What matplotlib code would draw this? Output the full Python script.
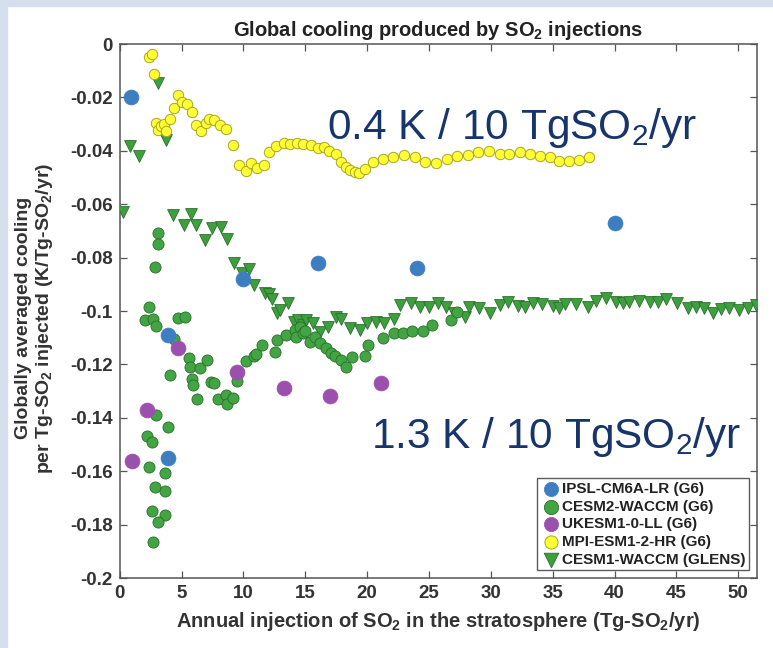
import numpy as np
import matplotlib
matplotlib.use("Agg")
import matplotlib.pyplot as plt
from matplotlib.patches import Rectangle

plt.rcParams['font.family'] = ['Liberation Sans', 'DejaVu Sans']
plt.rcParams['mathtext.default'] = 'regular'

# IPSL-CM6A-LR (G6)
ipsl_x = [0.9, 3.9, 3.9, 10.0, 16.0, 24.0, 40.0]
ipsl_y = [-0.020, -0.109, -0.155, -0.088, -0.082, -0.084, -0.067]

# UKESM1-0-LL (G6)
ukesm_x = [1.0, 2.2, 4.7, 9.5, 13.3, 17.0, 21.1]
ukesm_y = [-0.156, -0.137, -0.114, -0.123, -0.129, -0.132, -0.127]

# CESM2-WACCM (G6)
cesm2_x = [2.02, 2.37, 2.69, 2.96, 2.83, 3.1, 3.1, 4.36, 4.09, 4.71, 5.25,
           5.6, 5.65, 5.84, 5.92, 6.25, 6.46, 7.05, 7.4, 7.59, 7.94, 8.56,
           8.67, 9.15, 9.48, 10.23, 10.82, 10.99, 11.52, 12.52, 12.7, 13.46,
           14.14, 14.27, 14.6, 14.81, 15.0, 15.35, 15.75, 16.16, 16.7, 17.1,
           17.37, 17.9, 18.26, 18.8, 19.79, 20.06, 21.27, 22.13, 22.88, 23.64,
           24.5, 25.26, 26.79, 27.3,
           2.96, 2.21, 2.64, 3.9, 2.37, 3.63, 2.83, 3.63, 2.61, 3.63, 3.1, 2.69]
cesm2_y = [-0.1034, -0.0986, -0.1031, -0.1056, -0.0834, -0.0707, -0.0749,
           -0.1106, -0.1240, -0.1027, -0.1021, -0.1177, -0.1209, -0.1256,
           -0.1277, -0.1330, -0.1215, -0.1184, -0.1265, -0.1271, -0.1330,
           -0.1315, -0.1348, -0.1325, -0.1261, -0.1186, -0.1169, -0.1161,
           -0.1127, -0.1152, -0.1109, -0.1090, -0.1071, -0.1096, -0.1060,
           -0.1084, -0.1075, -0.1115, -0.1096, -0.1121, -0.1140, -0.1156,
           -0.1169, -0.1184, -0.1211, -0.1173, -0.1169, -0.1127, -0.1102,
           -0.1081, -0.1081, -0.1074, -0.1074, -0.1052, -0.1034, -0.1002,
           -0.1390, -0.1468, -0.1490, -0.1436, -0.1583, -0.1608, -0.1658,
           -0.1673, -0.1748, -0.1764, -0.1789, -0.1864]

# MPI-ESM1-2-HR (G6)
mpi_x = [2.4, 2.6, 2.75, 2.95, 3.1, 3.35, 3.55, 3.75, 4.05, 4.35, 4.7, 5.0,
         5.4, 5.8, 6.2, 6.6, 6.95, 7.25, 7.65, 8.1, 8.6, 9.15, 9.6, 10.2,
         10.6, 11.1, 11.65, 12.1, 12.65, 13.25, 13.8, 14.3, 14.85, 15.45,
         16.0, 16.5, 16.95, 17.45, 17.85, 18.25, 18.65, 19.0, 19.35, 19.8,
         20.45, 21.3, 22.1, 23.0, 23.85, 24.65, 25.6, 26.45, 27.25, 28.15,
         29.0, 29.85, 30.7, 31.5, 32.35, 33.2, 34.0, 34.75, 35.55, 36.35,
         37.15, 37.95]
mpi_y = [-0.0050, -0.0039, -0.0112, -0.0296, -0.0322, -0.0307, -0.0300,
         -0.0325, -0.0281, -0.0241, -0.0191, -0.0216, -0.0225, -0.0253,
         -0.0303, -0.0325, -0.0297, -0.0282, -0.0285, -0.0303, -0.0318,
         -0.0378, -0.0453, -0.0474, -0.0447, -0.0466, -0.0453, -0.0403,
         -0.0382, -0.0370, -0.0376, -0.0372, -0.0375, -0.0378, -0.0391,
         -0.0387, -0.0401, -0.0413, -0.0441, -0.0459, -0.0472, -0.0478,
         -0.0482, -0.0469, -0.0441, -0.0432, -0.0424, -0.0416, -0.0424,
         -0.0441, -0.0444, -0.0432, -0.0420, -0.0416, -0.0404, -0.0400,
         -0.0412, -0.0412, -0.0406, -0.0412, -0.0419, -0.0422, -0.0437,
         -0.0437, -0.0434, -0.0422]

# CESM1-WACCM (GLENS)
glens_x = [0.25, 0.86, 1.56, 3.1, 3.72, 4.31, 5.17, 5.79, 6.19, 6.87, 7.49,
           8.21, 8.67, 9.2, 9.91, 10.45, 10.82, 11.71, 12.06, 12.33, 12.7,
           12.92, 13.6, 14.05, 14.4, 14.81, 15.08, 15.62, 16.16, 16.83, 17.5,
           17.9, 18.58, 19.39, 19.98, 20.68, 21.4, 22.13, 22.62, 23.56, 24.28,
           24.98, 25.71, 26.39, 27.06, 27.87, 28.27, 29.08, 29.94, 30.7, 31.37,
           32.17, 32.8, 33.39, 34.14, 35.06, 35.48, 36.03, 36.89, 37.83, 38.5,
           39.31, 40.12, 40.66, 41.2, 42.0, 42.87, 43.48, 44.2, 45.09, 45.9,
           46.58, 47.25, 47.98, 48.6, 49.27, 50.03, 50.83, 51.43]
glens_y = [-0.0630, -0.0380, -0.0420, -0.0145, -0.0360, -0.0640, -0.0678,
           -0.0637, -0.0678, -0.0734, -0.0690, -0.0684, -0.0731, -0.0819,
           -0.0859, -0.0844, -0.0903, -0.0934, -0.0936, -0.0956, -0.1009,
           -0.0996, -0.0971, -0.1040, -0.1034, -0.1052, -0.1034, -0.1046,
           -0.1078, -0.1059, -0.1021, -0.1031, -0.1065, -0.1071, -0.1046,
           -0.1040, -0.1046, -0.1031, -0.0978, -0.0971, -0.0986, -0.0986,
           -0.0971, -0.0986, -0.1009, -0.1021, -0.0984, -0.0990, -0.1009,
           -0.0978, -0.0965, -0.0981, -0.0986, -0.0971, -0.0975, -0.0981,
           -0.0990, -0.0974, -0.0974, -0.0986, -0.0961, -0.0952, -0.0965,
           -0.0971, -0.0965, -0.0961, -0.0967, -0.0967, -0.0956, -0.0969,
           -0.0990, -0.0984, -0.0990, -0.1006, -0.0994, -0.0990, -0.0996,
           -0.0990, -0.0978]

yticks = np.round(np.arange(-0.2, 0.001, 0.02), 2)

fig = plt.figure(figsize=(7.73, 6.48), dpi=100)
# pale slide border along top and left
fig.patches.append(Rectangle((0, 0.99), 1, 0.01, transform=fig.transFigure,
                             color='#d6dfee', zorder=0))
fig.patches.append(Rectangle((0, 0), 0.009, 1, transform=fig.transFigure,
                             color='#d6dfee', zorder=0))

ax = fig.add_axes([0.155, 0.108, 0.824, 0.824])

ax.scatter(glens_x, glens_y, s=72, marker='v', c='#3e9f3e',
           edgecolors='#2a6e2a', linewidths=0.6, zorder=3,
           label='CESM1-WACCM (GLENS)')
ax.scatter(cesm2_x, cesm2_y, s=64, marker='o', c='#43a443',
           edgecolors='#2a6e2a', linewidths=0.6, zorder=4,
           label='CESM2-WACCM (G6)')
ax.scatter(mpi_x, mpi_y, s=56, marker='o', c='#ffff33',
           edgecolors='#a9a32a', linewidths=0.7, zorder=4,
           label='MPI-ESM1-2-HR (G6)')
ax.scatter(ipsl_x, ipsl_y, s=115, marker='o', c='#3c7ec0',
           edgecolors='#3c7ec0', linewidths=0.5, zorder=5,
           label='IPSL-CM6A-LR (G6)')
ax.scatter(ukesm_x, ukesm_y, s=115, marker='o', c='#9b50ad',
           edgecolors='#9b50ad', linewidths=0.5, zorder=5,
           label='UKESM1-0-LL (G6)')

ax.set_xlim(0, 51.5)
ax.set_ylim(-0.2, 0)
ax.set_xticks(np.arange(0, 51, 5))
ax.set_yticks(yticks)
ax.set_yticklabels(['%g' % (v + 0.0) for v in yticks])
ax.tick_params(direction='in', top=True, right=True, length=5, width=0.9,
               color='#555555', labelsize=13.5, pad=5)
for lab in ax.get_xticklabels() + ax.get_yticklabels():
    lab.set_fontweight('bold')
    lab.set_color('#333333')
for sp in ax.spines.values():
    sp.set_color('#555555')
    sp.set_linewidth(1.1)

ax.set_title('Global cooling produced by SO$_2$ injections', fontsize=14.5,
             fontweight='bold', color='#222222', pad=6)
ax.set_xlabel('Annual injection of SO$_2$ in the stratosphere (Tg-SO$_2$/yr)',
              fontsize=14.5, fontweight='bold', color='#333333', labelpad=6)
fig.text(0.045, 1 - 318 / 648,
         'Globally averaged cooling\nper Tg-SO$_2$ injected (K/Tg-SO$_2$/yr)',
         rotation=90, ha='center', va='center', fontsize=14,
         fontweight='bold', color='#333333', linespacing=1.1)

ax.text(0.906, 0.843, '0.4 K / 10 TgSO$_2$/yr', transform=ax.transAxes,
        ha='right', va='center', fontsize=30.5, color='#17356b')
ax.text(0.975, 0.264, '1.3 K / 10 TgSO$_2$/yr', transform=ax.transAxes,
        ha='right', va='center', fontsize=30.5, color='#17356b')

handles, labels = ax.get_legend_handles_labels()
order = ['IPSL-CM6A-LR (G6)', 'CESM2-WACCM (G6)', 'UKESM1-0-LL (G6)',
         'MPI-ESM1-2-HR (G6)', 'CESM1-WACCM (GLENS)']
hmap = dict(zip(labels, handles))
leg = ax.legend([hmap[k] for k in order], order, loc='lower right',
                prop={'weight': 'bold', 'size': 11},
                frameon=True, fancybox=False, edgecolor='#333333',
                labelspacing=0.24, handletextpad=0.05, handlelength=1.3,
                borderpad=0.25, borderaxespad=0.5)
leg.get_frame().set_linewidth(1.0)
for h, sz in zip(leg.legend_handles, [105, 105, 105, 90, 110]):
    h.set_sizes([sz])
for t in leg.get_texts():
    t.set_color('#222222')

fig.savefig('out.png', dpi=100)
